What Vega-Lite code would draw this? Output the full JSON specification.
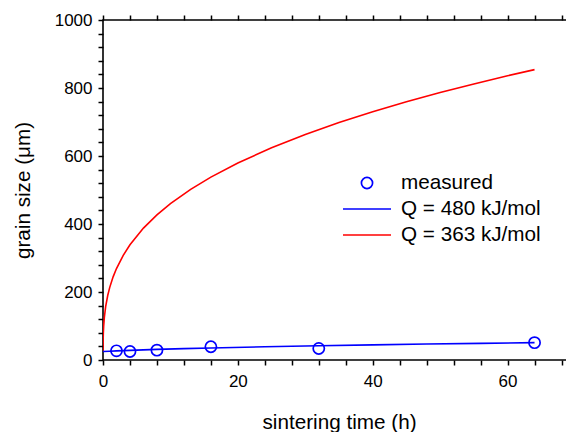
{
  "$schema": "https://vega.github.io/schema/vega-lite/v6.json",
  "width": 472,
  "height": 340,
  "autosize": {"type": "none"},
  "padding": {"left": 103, "top": 20, "right": -9, "bottom": 72},
  "background": "white",
  "config": {
    "font": "Liberation Sans",
    "view": {"stroke": "black", "strokeWidth": 1.6},
    "axis": {"grid": false, "domain": false, "tickColor": "black", "tickWidth": 1.5, "labelColor": "black", "titleColor": "black", "labelFont": "Liberation Sans", "titleFont": "Liberation Sans", "labelOverlap": false, "labelFlush": false}
  },
  "datasets": {
    "red": [
      {"t": 0, "d": 25, "series": "Q = 363 kJ/mol"},
      {"t": 0.02, "d": 59.5, "series": "Q = 363 kJ/mol"},
      {"t": 0.05, "d": 79.5, "series": "Q = 363 kJ/mol"},
      {"t": 0.1, "d": 99.6, "series": "Q = 363 kJ/mol"},
      {"t": 0.2, "d": 125.2, "series": "Q = 363 kJ/mol"},
      {"t": 0.4, "d": 157.5, "series": "Q = 363 kJ/mol"},
      {"t": 0.7, "d": 189.7, "series": "Q = 363 kJ/mol"},
      {"t": 1, "d": 213.6, "series": "Q = 363 kJ/mol"},
      {"t": 1.5, "d": 244.5, "series": "Q = 363 kJ/mol"},
      {"t": 2, "d": 269, "series": "Q = 363 kJ/mol"},
      {"t": 3, "d": 308, "series": "Q = 363 kJ/mol"},
      {"t": 4, "d": 339, "series": "Q = 363 kJ/mol"},
      {"t": 6, "d": 388, "series": "Q = 363 kJ/mol"},
      {"t": 8, "d": 427, "series": "Q = 363 kJ/mol"},
      {"t": 10, "d": 460, "series": "Q = 363 kJ/mol"},
      {"t": 13, "d": 502, "series": "Q = 363 kJ/mol"},
      {"t": 16, "d": 538, "series": "Q = 363 kJ/mol"},
      {"t": 20, "d": 579.5, "series": "Q = 363 kJ/mol"},
      {"t": 25, "d": 624.3, "series": "Q = 363 kJ/mol"},
      {"t": 30, "d": 663.4, "series": "Q = 363 kJ/mol"},
      {"t": 35, "d": 698.4, "series": "Q = 363 kJ/mol"},
      {"t": 40, "d": 730, "series": "Q = 363 kJ/mol"},
      {"t": 45, "d": 759.4, "series": "Q = 363 kJ/mol"},
      {"t": 50, "d": 786.6, "series": "Q = 363 kJ/mol"},
      {"t": 55, "d": 812, "series": "Q = 363 kJ/mol"},
      {"t": 60, "d": 836, "series": "Q = 363 kJ/mol"},
      {"t": 64, "d": 854, "series": "Q = 363 kJ/mol"}
    ],
    "blue": [
      {"t": 0, "d": 25, "series": "Q = 480 kJ/mol"},
      {"t": 1, "d": 25.9, "series": "Q = 480 kJ/mol"},
      {"t": 2, "d": 26.8, "series": "Q = 480 kJ/mol"},
      {"t": 4, "d": 28.4, "series": "Q = 480 kJ/mol"},
      {"t": 8, "d": 31.2, "series": "Q = 480 kJ/mol"},
      {"t": 12, "d": 33.5, "series": "Q = 480 kJ/mol"},
      {"t": 16, "d": 35.5, "series": "Q = 480 kJ/mol"},
      {"t": 24, "d": 39, "series": "Q = 480 kJ/mol"},
      {"t": 32, "d": 42, "series": "Q = 480 kJ/mol"},
      {"t": 40, "d": 44.6, "series": "Q = 480 kJ/mol"},
      {"t": 48, "d": 46.9, "series": "Q = 480 kJ/mol"},
      {"t": 56, "d": 49, "series": "Q = 480 kJ/mol"},
      {"t": 64, "d": 51, "series": "Q = 480 kJ/mol"}
    ],
    "measured": [
      {"t": 2, "d": 27, "series": "measured"},
      {"t": 4, "d": 25, "series": "measured"},
      {"t": 8, "d": 29, "series": "measured"},
      {"t": 16, "d": 39, "series": "measured"},
      {"t": 32, "d": 34, "series": "measured"},
      {"t": 64, "d": 51, "series": "measured"}
    ]
  },
  "layer": [
    {
      "data": {"name": "red"},
      "mark": {"type": "line", "strokeWidth": 1.6, "clip": true},
      "encoding": {
        "x": {"field": "t", "type": "quantitative", "scale": {"domain": [0, 70], "nice": false, "zero": false},
          "axis": {"orient": "bottom", "values": [0, 20, 40, 60], "ticks": false, "format": "d",
            "labelPadding": 13, "labelFontSize": 17, "title": "sintering time (h)", "titleFontSize": 20.7, "titleFontWeight": "normal",
            "titleBaseline": "alphabetic", "titleY": 68}},
        "y": {"field": "d", "type": "quantitative", "scale": {"domain": [0, 1000], "nice": false},
          "axis": {"orient": "left", "values": [0, 200, 400, 600, 800, 1000], "ticks": false, "format": "d",
            "labelPadding": 11, "labelFontSize": 17, "title": "grain size (\u03bcm)", "titleFontSize": 20.7, "titleFontWeight": "normal",
            "titleBaseline": "alphabetic", "titleAngle": 270, "titleX": -74}},
        "color": {"field": "series", "type": "nominal",
          "scale": {"domain": ["measured", "Q = 480 kJ/mol", "Q = 363 kJ/mol"], "range": ["#0000ff", "#0000ff", "#ff0000"]},
          "legend": {"orient": "none", "legendX": 239, "legendY": 153, "title": null, "padding": 0,
            "labelFontSize": 20.7, "labelFont": "Liberation Sans", "labelColor": "black", "labelOffset": 9,
            "symbolType": "stroke", "symbolSize": 2304, "symbolStrokeWidth": 1.6, "symbolOffset": 0, "rowPadding": 5, "clipHeight": 20,
            "encode": {"symbols": {"update": {
              "shape": {"signal": "datum.value === 'measured' ? 'circle' : 'stroke'"},
              "size": {"signal": "datum.value === 'measured' ? 125 : 2304"},
              "fill": {"value": "transparent"},
              "strokeWidth": {"value": 1.7},
              "opacity": {"value": 1}
            }}}}}
      }
    },
    {
      "data": {"name": "blue"},
      "mark": {"type": "line", "strokeWidth": 1.6},
      "encoding": {
        "x": {"field": "t", "type": "quantitative",
          "axis": {"orient": "bottom", "values": [0, 4, 8, 12, 16, 20, 24, 28, 32, 36, 40, 44, 48, 52, 56, 60, 64, 68], "labels": false, "title": null,
            "encode": {"ticks": {"update": {"y2": {"signal": "datum.value % 20 === 0 ? -11 : -6"}}}}}},
        "y": {"field": "d", "type": "quantitative",
          "axis": {"orient": "left", "values": [0, 40, 80, 120, 160, 200, 240, 280, 320, 360, 400, 440, 480, 520, 560, 600, 640, 680, 720, 760, 800, 840, 880, 920, 960, 1000], "labels": false, "title": null,
            "encode": {"ticks": {"update": {"x2": {"signal": "datum.value % 200 === 0 ? 11 : 6"}}}}}},
        "color": {"field": "series", "type": "nominal"}
      }
    },
    {
      "data": {"name": "measured"},
      "mark": {"type": "point", "shape": "circle", "filled": false, "size": 125, "strokeWidth": 1.7, "opacity": 1},
      "encoding": {
        "x": {"field": "t", "type": "quantitative",
          "axis": {"orient": "top", "values": [0, 4, 8, 12, 16, 20, 24, 28, 32, 36, 40, 44, 48, 52, 56, 60, 64, 68], "labels": false, "title": null,
            "encode": {"ticks": {"update": {"y2": {"signal": "datum.value % 20 === 0 ? 11 : 6"}}}}}},
        "y": {"field": "d", "type": "quantitative",
          "axis": {"orient": "right", "values": [0, 40, 80, 120, 160, 200, 240, 280, 320, 360, 400, 440, 480, 520, 560, 600, 640, 680, 720, 760, 800, 840, 880, 920, 960, 1000], "labels": false, "title": null,
            "encode": {"ticks": {"update": {"x2": {"signal": "datum.value % 200 === 0 ? -11 : -6"}}}}}},
        "color": {"field": "series", "type": "nominal"}
      }
    }
  ],
  "resolve": {"axis": {"x": "independent", "y": "independent"}}
}
